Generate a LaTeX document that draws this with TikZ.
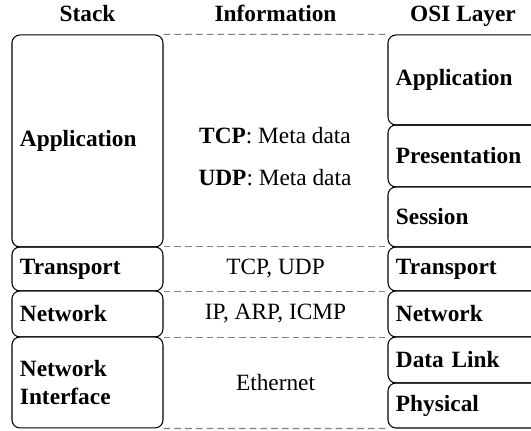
\documentclass[tikz,border=0pt]{standalone}
\usepackage{fontspec}
\setmainfont{Liberation Serif}
\begin{document}
\begin{tikzpicture}[
  layerbox/.style={draw, line width=0.016cm, rounded corners=0.120000cm, inner sep=0.120000cm, align=left, font=\bfseries},
  stackbox/.style={layerbox, text width=2.035000cm},
  osibox/.style={layerbox, text width=2.125000cm},
  divider/.style={gray, line width=0.016cm, dash pattern=on 0.102cm off 0.060cm},
  heading/.style={font=\bfseries, anchor=base}
]
                        \useasboundingbox (0.000000,0.000000) rectangle (8.000000,6.493000);
                        \clip (0.000000,0.000000) rectangle (8.000000,6.493000);

                        % Marking headings
                        \node [heading] (hStack) at (1.318000,6.170000) {Stack};%
                        \node [heading] (hInfo) at (4.151000,6.170000) {Information};%
                        \node [heading] (hOsi) at (6.976000,6.170000) {OSI Layer};%

                        % Drawing stack boxes
                        \node [stackbox, minimum height=3.194000cm] (stApp) at (1.318000,4.369000) {Application};%
                        \node [stackbox, minimum height=0.663000cm] (stTrans) at (1.318000,2.441000) {Transport};%
                        \node [stackbox, minimum height=0.693000cm] (stNet) at (1.318000,1.763000) {Network};%
                        \node [stackbox, minimum height=1.371000cm] (stIface) at (1.318000,0.731000) {Network\\Interface};%

                        % Drawing OSI boxes
                        \node [osibox, minimum height=1.356000cm] (osiApp) at (7.028000,5.288000) {Application};%
                        \node [osibox, minimum height=0.934000cm] (osiPres) at (7.028000,4.143000) {Presentation};%
                        \node [osibox, minimum height=0.904000cm] (osiSes) at (7.028000,3.224000) {Session};%
                        \node [osibox, minimum height=0.663000cm] (osiTrans) at (7.028000,2.441000) {Transport};%
                        \node [osibox, minimum height=0.693000cm] (osiNet) at (7.028000,1.763000) {Network};%
                        \node [osibox, minimum height=0.693000cm] (osiLink) at (7.028000,1.070000) {Data Link};%
                        \node [osibox, minimum height=0.678000cm] (osiPhy) at (7.028000,0.384000) {Physical};%

                        % Marking information
                        \node (infoTcp) at (4.143000,4.444000) {\textbf{TCP}: Meta data};%
                        \node (infoUdp) at (4.143000,3.819000) {\textbf{UDP}: Meta data};%
                        \node (infoTrans) at (4.151000,2.441000) {TCP, UDP};%
                        \node (infoNet) at (4.151000,1.763000) {IP, ARP, ICMP};%
                        \node (infoLink) at (4.151000,0.731000) {Ethernet};%

                        % Drawing dashed dividers
                        \draw [divider] (stApp.north east) -- (osiApp.north west);%
                        \draw [divider] (stTrans.north east) -- (osiTrans.north west);%
                        \draw [divider] (stTrans.south east) -- (osiTrans.south west);%
                        \draw [divider] (stNet.south east) -- (osiNet.south west);%
                        \draw [divider] (stIface.south east) -- (osiPhy.south west);%
\end{tikzpicture}
\end{document}
